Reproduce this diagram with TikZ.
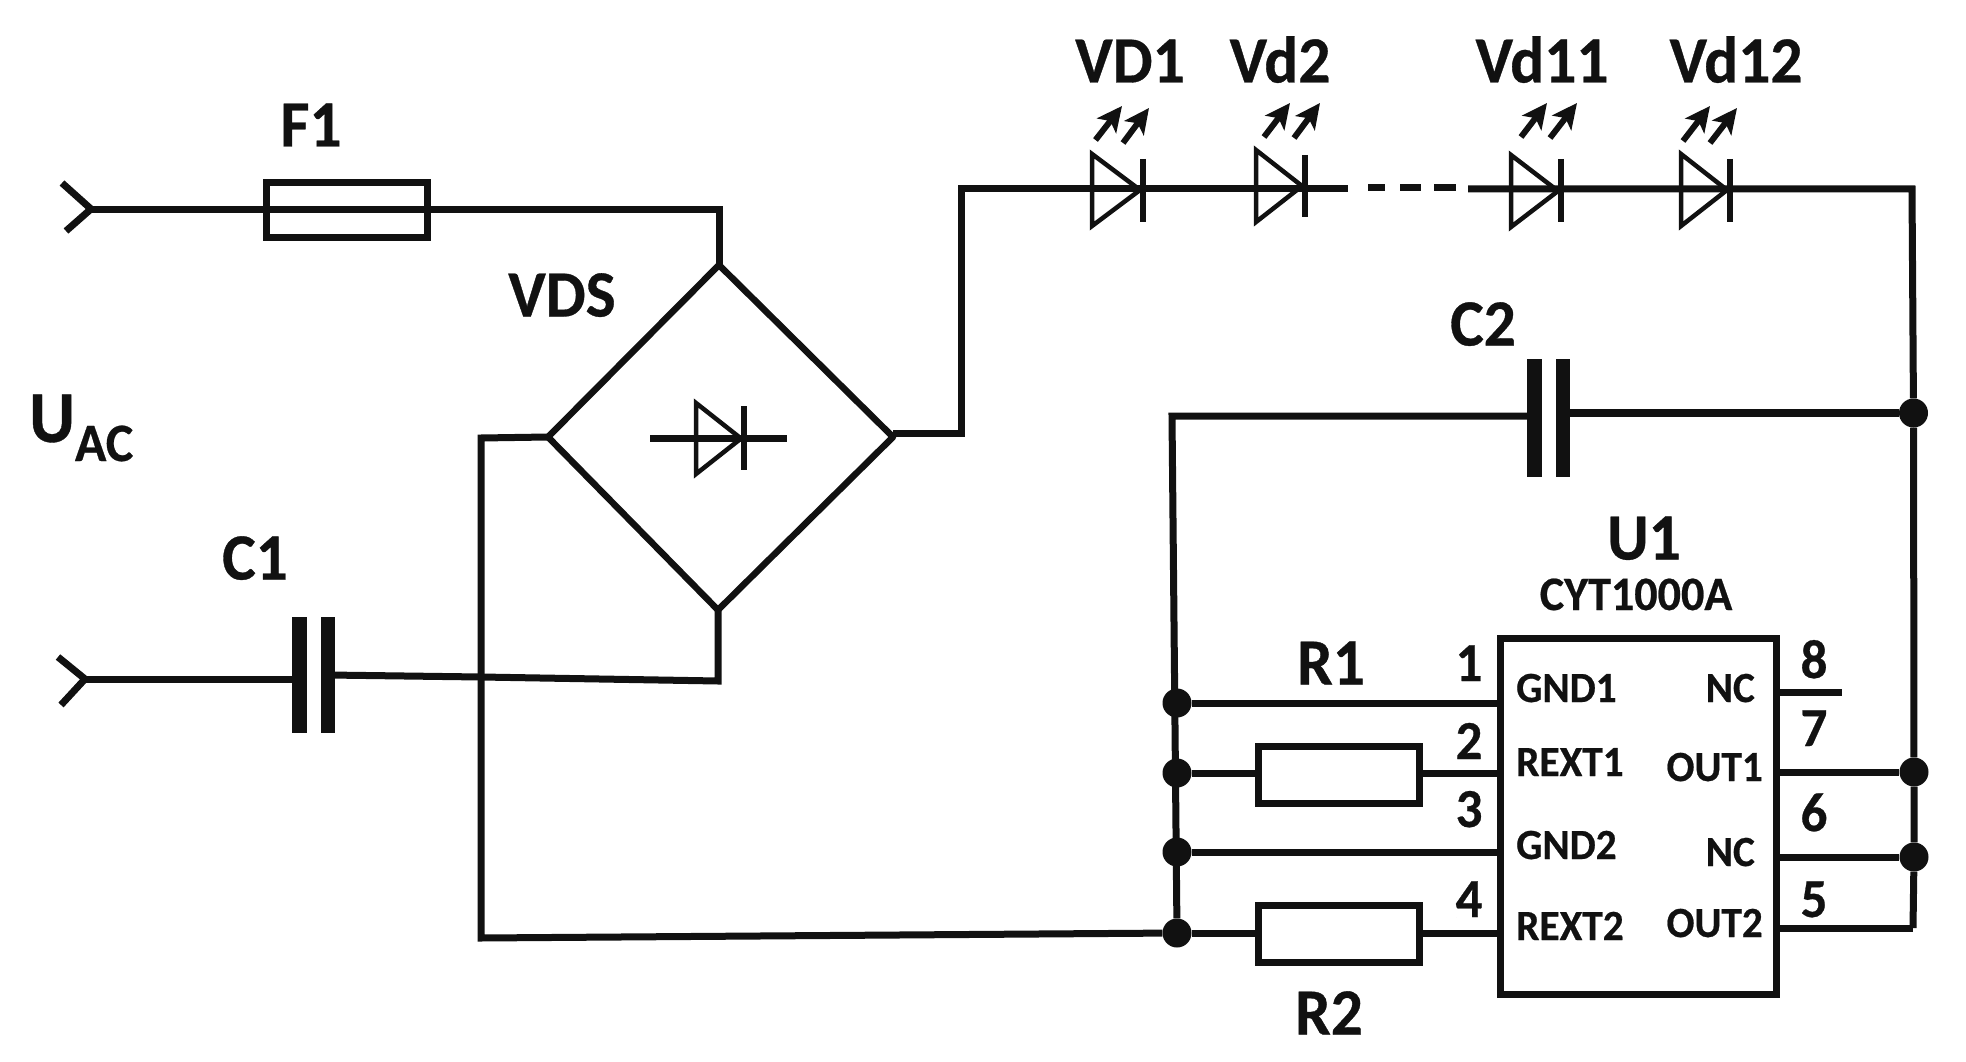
\documentclass[tikz,border=0pt]{standalone}
\usepackage{fontspec}
\setmainfont{Carlito}
\newfontfamily\labf[FakeStretch=0.96,FakeBold=0.5]{Carlito}
\usetikzlibrary{arrows.meta}
\definecolor{ink}{HTML}{111111}
\newcommand{\fsz}[1]{\fontsize{#1}{#1}\selectfont\labf\bfseries}
\tikzset{
  wire/.style={line width=7pt,draw=ink,line join=miter},
  plate/.style={line width=14.5pt,draw=ink},
  triang/.style={line width=4.5pt,draw=ink,line join=miter},
  dbar/.style={line width=6pt,draw=ink},
  ray/.style={line width=6pt,draw=ink,-{Stealth[length=25pt,width=24pt,inset=6pt]}},
  comp/.style={draw=ink,line width=7pt,inner sep=0pt,rectangle},
  junction/.style={circle,fill=ink,inner sep=0pt,minimum size=29pt},
  biglab/.style={text=ink,font=\fsz{66},inner sep=0pt,anchor=base,yshift=-1.5pt},
  numlab/.style={text=ink,font=\fsz{55},inner sep=0pt,anchor=base},
  pinlab/.style={text=ink,font=\fsz{43},inner sep=0pt},
}
\newcommand{\ledd}[8]{% id, xtri, xbar, ytop, ybot, bartop, barbot, label
  \coordinate (#1ta) at (#2,#4);
  \coordinate (#1tb) at (#2,#5);
  \coordinate (#1tip) at (#3-3,{(#4+#5)/2});
  \coordinate (#1ba) at (#3,#6);
  \coordinate (#1bb) at (#3,#7);
  \draw[triang] (#1ta) -- (#1tip) -- (#1tb) -- cycle;
  \draw[dbar] (#1ba) -- (#1bb);
}
\newcommand{\rays}[9]{% id, four point pairs
  \coordinate (#1a) at (#2,#3);
  \coordinate (#1b) at (#4,#5);
  \coordinate (#1c) at (#6,#7);
  \coordinate (#1d) at (#8,#9);
  \draw[ray] (#1a) -- (#1b);
  \draw[ray] (#1c) -- (#1d);
}
\begin{document}
\begin{tikzpicture}[x=1pt,y=-1pt]
\useasboundingbox[fill=white] (0,0) rectangle (1966,1062);

% coordinates: input chevrons
\coordinate (inA) at (91,209);
\coordinate (inAu) at (62,183);
\coordinate (inAd) at (66,231);
\coordinate (inB) at (85,679);
\coordinate (inBu) at (58,657);
\coordinate (inBd) at (61,705);
% bridge
\coordinate (vdsT) at (719,265);
\coordinate (vdsL) at (548,437);
\coordinate (vdsR) at (893,437);
\coordinate (vdsRo) at (893,433);
\coordinate (vdsB) at (718,610);
\coordinate (cornA) at (719,209);
\coordinate (cornL) at (481,438);
\coordinate (cornLb) at (481,938);
\coordinate (cornB) at (718,681);
\coordinate (midB) at (481,677);
\coordinate (cornR) at (961,433);
\coordinate (cornRt) at (961,189);
\coordinate (cornE) at (1912,189);
\coordinate (busLt) at (1172,416);
\coordinate (c1a) at (299,679);
\coordinate (c1b) at (328,675);
\coordinate (c2a) at (1534,416);
\coordinate (c2b) at (1563,413);
% junctions
\node[junction] (jR0) at (1913.5,413) {};
\node[junction] (jR1) at (1914,772) {};
\node[junction] (jR2) at (1914,857) {};
\coordinate (busRb) at (1913,928);
\node[junction] (jL1) at (1177,703) {};
\node[junction] (jL2) at (1177,773) {};
\node[junction] (jL3) at (1177,852) {};
\node[junction] (jL4) at (1177,933) {};
% components with wires under them
\draw[wire] (inA) -- (cornA) -- (vdsT);
\node[comp,minimum width=161pt,minimum height=54pt] (F1) at (347,210) {};
\draw[wire] (inAu) -- (inA) -- (inAd);
\draw[wire] (inBu) -- (inB) -- (inBd);
\draw[wire] (inB) -- (c1a);
\draw[wire] (c1b) -- (midB) -- (cornB) -- (vdsB);
\draw[wire] (vdsL) -- (cornL) -- (cornLb) -- (jL4);
\draw[line width=6.5pt,draw=ink,line join=round] (vdsT) -- (vdsR) -- (vdsB) -- (vdsL) -- cycle;
\draw[wire] (vdsRo) -- (cornR) -- (cornRt) -- (1348,189);
% capacitor plates
\coordinate (p1at) at (299.5,617); \coordinate (p1ab) at (299.5,733);
\coordinate (p1bt) at (328,617); \coordinate (p1bb) at (328,733);
\draw[plate] (p1at) -- (p1ab);
\draw[plate] (p1bt) -- (p1bb);
\coordinate (p2at) at (1534.5,359); \coordinate (p2ab) at (1534.5,477);
\coordinate (p2bt) at (1563,359); \coordinate (p2bb) at (1563,477);
\draw[plate] (p2at) -- (p2ab);
\draw[plate] (p2bt) -- (p2bb);
% bridge diode
\coordinate (wL) at (650,438); \coordinate (wR) at (787,438);
\draw[wire] (wL) -- (wR);
\ledd{br}{696}{744}{403}{474}{406}{470}{}
% LED string
\coordinate (dashA) at (1368,188);
\coordinate (dashB) at (1456,188);
\draw[wire,dash pattern=on 17pt off 15pt on 21pt off 13pt on 22pt off 100pt] (dashA) -- (dashB);
\coordinate (strR) at (1468,189);
\draw[wire] (strR) -- (cornE) -- (jR0) -- (jR1) -- (jR2) -- (busRb);
\ledd{da}{1092}{1143}{154}{226}{159}{222}{}
\ledd{db}{1256}{1305}{150}{222}{155}{217}{}
\ledd{dc}{1511}{1561}{155}{227}{159}{222}{}
\ledd{dd}{1681}{1730}{154}{226}{159}{222}{}
\rays{ra}{1095.5}{140}{1122}{106}{1123}{143}{1149}{108}
\rays{rb}{1264}{137}{1290}{103}{1294}{138}{1320}{103}
\rays{rc}{1521}{137}{1547}{103}{1550}{138}{1577}{103}
\rays{rd}{1683}{141}{1710}{106}{1710}{143}{1737}{108}
% C2 and left bus
\draw[wire] (c2a) -- (busLt) -- (jL4);
\draw[line width=7.5pt,draw=ink] (c2b) -- (jR0);
% U1
\node[comp,fill=white,minimum width=276pt,minimum height=356pt] (U1) at (1638.5,816.5) {};
% left pins
\draw[wire] (jL1) -- (jL1 -| U1.west);
\draw[wire] (jL2) -- (jL2 -| U1.west);
\draw[wire] (jL3) -- (jL3 -| U1.west);
\draw[wire] (jL4) -- (jL4 -| U1.west);
\node[comp,fill=white,minimum width=161pt,minimum height=57pt] (R1) at (1338.5,774.5) {};
\node[comp,fill=white,minimum width=161pt,minimum height=57pt] (R2) at (1338.5,934) {};
% right pins
\coordinate (nc8) at (1842,692);
\draw[wire] (U1.east |- nc8) -- (nc8);
\draw[wire] (U1.east |- jR1) -- (jR1);
\draw[wire] (U1.east |- jR2) -- (jR2);
\draw[wire] (U1.east |- busRb) -- (busRb);
% labels
\node[biglab] (lF1) at (311,145) {F1};
\node[biglab] (lVDS) at (562,315) {VDS};
\node[biglab] (lC1) at (255,578) {C1};
\node[biglab] (lC2) at (1483,344) {C2};
\node[biglab] (lR1) at (1331,683) {R1};
\node[biglab] (lR2) at (1329,1033) {R2};
\node[biglab] (lU1) at (1644,558) {U1};
\node[text=ink,font=\fsz{48},inner sep=0pt,anchor=base] (lCYT) at (1636,610) {CYT1000A};
\node[biglab] (lVD1) at (1130,81) {VD1};
\node[biglab] (lVd2) at (1280,81) {Vd2};
\node[biglab] (lVd11) at (1542,81) {Vd11};
\node[biglab] (lVd12) at (1736,81) {Vd12};
\node[text=ink,font=\fsz{73},inner sep=0pt,anchor=base west] (lUAC) at (29,442) {U\raisebox{-19pt}{\fsz{54}AC}};
% pin numbers
\node[numlab] (n1) at (1469,681) {1};
\node[numlab] (n2) at (1469,759) {2};
\node[numlab] (n3) at (1469,827) {3};
\node[numlab] (n4) at (1469,917) {4};
\node[numlab] (n8) at (1814,678) {8};
\node[numlab] (n7) at (1814,746) {7};
\node[numlab] (n6) at (1814,831) {6};
\node[numlab] (n5) at (1814,917) {5};
% pin names
\node[pinlab,anchor=base west] (pa) at (1516,702) {GND1};
\node[pinlab,anchor=base west] (pb) at (1516,776) {REXT1};
\node[pinlab,anchor=base west] (pc) at (1516,859) {GND2};
\node[pinlab,anchor=base west] (pd) at (1516,940) {REXT2};
\node[pinlab,anchor=base east] (pe) at (1755,702) {NC};
\node[pinlab,anchor=base east] (pf) at (1763,781) {OUT1};
\node[pinlab,anchor=base east] (pg) at (1755,866) {NC};
\node[pinlab,anchor=base east] (ph) at (1763,937) {OUT2};
\end{tikzpicture}
\end{document}
